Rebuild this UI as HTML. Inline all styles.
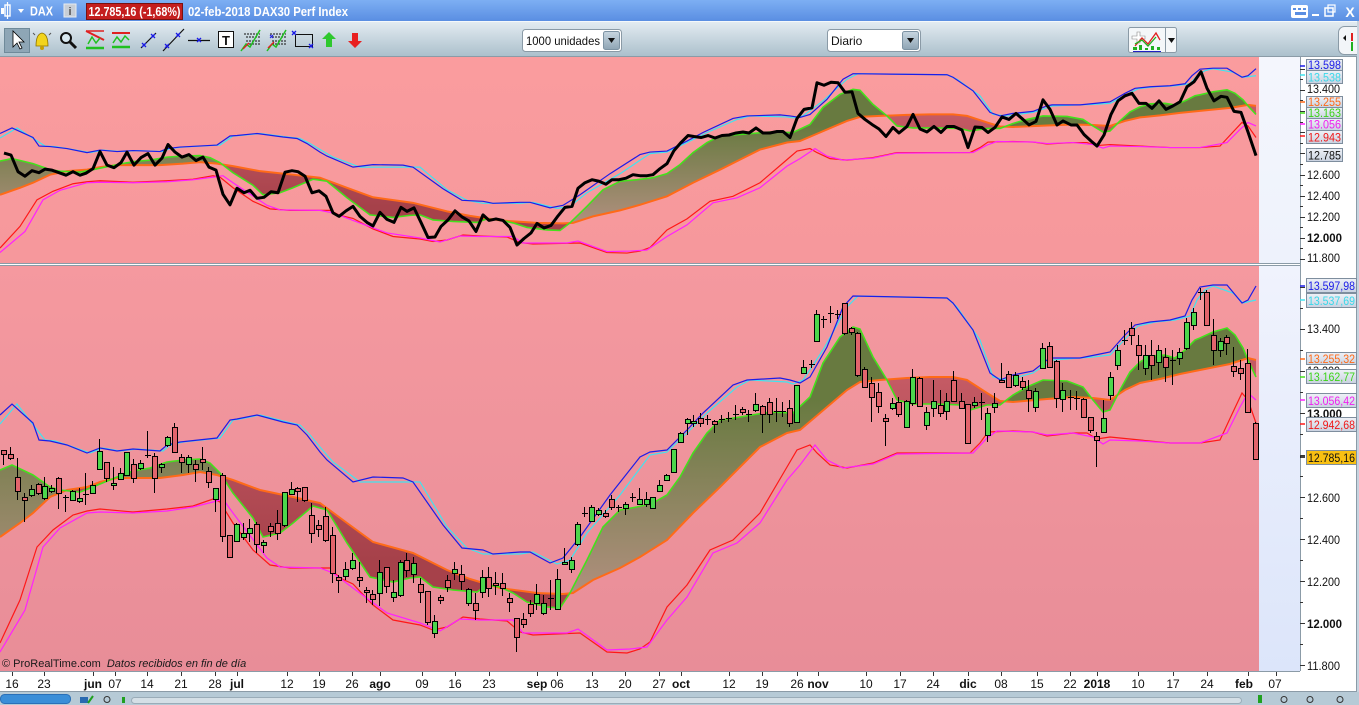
<!DOCTYPE html>
<html><head><meta charset="utf-8">
<style>
html,body{margin:0;padding:0;width:1359px;height:705px;overflow:hidden;background:#fff}
svg{display:block}
text{font-family:"Liberation Sans",Arial,sans-serif}
</style></head><body>
<svg width="1359" height="705" viewBox="0 0 1359 705" xmlns="http://www.w3.org/2000/svg" xmlns:xlink="http://www.w3.org/1999/xlink">
<defs>
 <linearGradient id="tb" x1="0" y1="0" x2="0" y2="1"><stop offset="0" stop-color="#7DAFF3"/><stop offset="1" stop-color="#5A8EE2"/></linearGradient>
 <linearGradient id="tool" x1="0" y1="0" x2="0" y2="1"><stop offset="0" stop-color="#E4ECF2"/><stop offset="1" stop-color="#AABFCB"/></linearGradient>
 <linearGradient id="bgT" x1="0" y1="0" x2="0" y2="1"><stop offset="0" stop-color="#FA9C9E"/><stop offset="1" stop-color="#F6989C"/></linearGradient>
 <linearGradient id="bgB" x1="0" y1="0" x2="0" y2="1"><stop offset="0" stop-color="#F5999F"/><stop offset="1" stop-color="#E88D98"/></linearGradient>
 <linearGradient id="rtT" x1="0" y1="0" x2="0" y2="1"><stop offset="0" stop-color="#F4F6FD"/><stop offset="1" stop-color="#EEF2FC"/></linearGradient>
 <linearGradient id="rtB" x1="0" y1="0" x2="0" y2="1"><stop offset="0" stop-color="#F0F3FD"/><stop offset="1" stop-color="#DCE5FA"/></linearGradient>
 <linearGradient id="box" x1="0" y1="0" x2="0" y2="1"><stop offset="0" stop-color="#EEF1F7"/><stop offset="1" stop-color="#C9D2E0"/></linearGradient>
 <linearGradient id="btn" x1="0" y1="0" x2="0" y2="1"><stop offset="0" stop-color="#C8D6E0"/><stop offset="1" stop-color="#8EA4B4"/></linearGradient>
 <linearGradient id="olv" gradientUnits="userSpaceOnUse" x1="0" y1="400" x2="0" y2="600"><stop offset="0" stop-color="#687A40"/><stop offset="1" stop-color="#B29080"/></linearGradient>
 <linearGradient id="rdf" gradientUnits="userSpaceOnUse" x1="0" y1="380" x2="0" y2="560"><stop offset="0" stop-color="#C45A64"/><stop offset="1" stop-color="#A6414A"/></linearGradient>
 <clipPath id="cT"><rect x="0" y="57" width="1259" height="206"/></clipPath>
 <clipPath id="cB"><rect x="0" y="266" width="1259" height="405"/></clipPath>
 <clipPath id="aO" clipPathUnits="userSpaceOnUse"><path d="M0,280 L0,537 20,523 33,513 50,497 67,490 87,487 100,482 117,478 140,478 160,478 183,475 200,472 217,475 233,480 260,490 293,497 320,503 347,523 373,542 413,553 447,570 470,579 500,588 537,593 563,594 573,593 593,580 620,568 640,557 667,540 693,513 720,487 740,467 760,447 787,433 800,430 820,413 847,390 860,382 880,380 907,378 930,377 953,377 967,380 987,393 1000,401 1013,402 1047,399 1073,397 1093,398 1110,400 1125,390 1140,383 1160,379 1180,374 1200,370 1230,364 1248,358 1256,360 L1256,280 Z"/></clipPath>
 <clipPath id="bO" clipPathUnits="userSpaceOnUse"><path d="M0,672 L0,537 20,523 33,513 50,497 67,490 87,487 100,482 117,478 140,478 160,478 183,475 200,472 217,475 233,480 260,490 293,497 320,503 347,523 373,542 413,553 447,570 470,579 500,588 537,593 563,594 573,593 593,580 620,568 640,557 667,540 693,513 720,487 740,467 760,447 787,433 800,430 820,413 847,390 860,382 880,380 907,378 930,377 953,377 967,380 987,393 1000,401 1013,402 1047,399 1073,397 1093,398 1110,400 1125,390 1140,383 1160,379 1180,374 1200,370 1230,364 1248,358 1256,360 L1256,672 Z"/></clipPath>
 <g id="ind">
  <g clip-path="url(#aO)"><path fill="url(#olv)" d="M0,672 L0,470 12,465 33,475 50,487 60,490 80,492 93,487 100,484 117,477 133,471 150,468 167,462 183,460 200,459 210,463 220,473 233,493 253,518 263,537 280,533 293,523 313,506 327,510 347,543 370,577 393,582 410,578 420,577 433,587 453,590 477,592 487,585 500,587 513,593 527,602 547,607 560,608 570,593 587,560 603,527 620,510 637,507 653,503 667,495 680,477 693,453 707,433 720,420 740,417 770,412 793,413 810,397 823,363 840,337 853,327 860,329 873,357 887,380 897,400 913,404 937,404 960,405 970,410 987,405 1000,405 1013,395 1027,387 1043,380 1067,381 1083,387 1093,400 1103,412 1110,410 1120,390 1130,372 1140,362 1150,356 1165,355 1175,358 1185,350 1195,340 1200,338 1213,332 1227,328 1235,335 1243,348 1248,360 1256,377 L1256,672 Z"/></g>
  <g clip-path="url(#bO)"><path fill="url(#rdf)" d="M0,280 L0,470 12,465 33,475 50,487 60,490 80,492 93,487 100,484 117,477 133,471 150,468 167,462 183,460 200,459 210,463 220,473 233,493 253,518 263,537 280,533 293,523 313,506 327,510 347,543 370,577 393,582 410,578 420,577 433,587 453,590 477,592 487,585 500,587 513,593 527,602 547,607 560,608 570,593 587,560 603,527 620,510 637,507 653,503 667,495 680,477 693,453 707,433 720,420 740,417 770,412 793,413 810,397 823,363 840,337 853,327 860,329 873,357 887,380 897,400 913,404 937,404 960,405 970,410 987,405 1000,405 1013,395 1027,387 1043,380 1067,381 1083,387 1093,400 1103,412 1110,410 1120,390 1130,372 1140,362 1150,356 1165,355 1175,358 1185,350 1195,340 1200,338 1213,332 1227,328 1235,335 1243,348 1248,360 1256,377 L1256,280 Z"/></g>
  <polyline fill="none" stroke="#FF1818" stroke-width="1.2" vector-effect="non-scaling-stroke" points="0,643 20,600 37,547 53,530 73,515 87,511 100,509 133,512 167,509 193,506 213,499 220,502 233,523 253,550 270,565 290,568 330,568 340,578 353,584 373,605 393,620 420,625 433,630 447,627 463,617 480,619 507,621 520,632 533,635 580,633 607,652 627,653 640,649 650,642 667,607 687,585 710,550 733,540 760,513 787,467 797,450 810,445 817,453 830,465 847,468 873,463 897,453 970,453 980,443 988,432 1013,431 1033,432 1047,436 1073,433 1087,433 1097,439 1110,437 1140,440 1170,443 1200,443 1220,440 1233,412 1242,393 1248,400 1256,423"/>
  <polyline fill="none" stroke="#FF20FF" stroke-width="1.2" vector-effect="non-scaling-stroke" points="0,652 25,610 43,547 60,528 87,513 100,512 133,513 167,511 193,507 213,502 223,499 233,513 267,558 280,567 320,568 333,573 353,588 387,613 420,623 440,631 460,619 480,620 513,620 523,633 567,633 578,629 607,650 630,649 647,647 667,620 687,597 713,553 737,543 760,523 787,480 800,465 815,445 827,460 843,468 873,464 897,454 973,453 987,438 997,431 1033,432 1047,435 1073,433 1093,437 1103,444 1110,440 1140,441 1170,443 1200,443 1227,433 1240,407 1248,393 1256,400"/>
  <polyline fill="none" stroke="#40E4F0" stroke-width="1.2" vector-effect="non-scaling-stroke" points="0,424 17,404 45,440 55,441 70,446 90,453 103,448 120,451 137,449 163,451 170,445 183,442 220,438 233,420 240,419 260,415 287,422 300,425 310,435 320,447 333,462 360,482 420,482 447,527 467,548 483,554 520,554 533,552 557,564 570,560 587,533 620,495 650,455 667,452 687,433 707,413 737,387 750,380 787,382 793,384 803,380 823,350 847,307 858,296 947,298 957,307 980,340 993,377 1007,380 1033,373 1053,360 1093,357 1110,355 1128,336 1138,326 1155,322 1175,320 1190,316 1197,300 1205,290 1213,286 1233,293 1243,303 1256,300"/>
  <polyline fill="none" stroke="#1C1CE8" stroke-width="1.2" vector-effect="non-scaling-stroke" points="0,415 12,404 33,423 39,440 50,441 67,445 87,453 100,448 117,451 133,449 160,451 167,445 180,442 217,438 230,420 237,419 257,415 283,422 297,425 307,435 320,452 327,460 353,482 373,477 403,478 413,482 443,525 462,548 483,550 493,554 520,552 530,552 550,563 563,558 580,537 610,495 640,457 650,452 667,450 687,430 703,413 733,385 747,380 780,378 790,380 800,383 810,377 827,347 843,307 853,296 947,298 953,303 973,330 990,373 1000,380 1013,375 1033,371 1047,360 1052,358 1080,358 1100,354 1110,352 1125,335 1135,325 1150,322 1170,320 1185,316 1192,300 1200,287 1213,285 1227,285 1242,303 1248,300 1256,286"/>
  <polyline fill="none" stroke="#FF6A18" stroke-width="2" vector-effect="non-scaling-stroke" points="0,537 20,523 33,513 50,497 67,490 87,487 100,482 117,478 140,478 160,478 183,475 200,472 217,475 233,480 260,490 293,497 320,503 347,523 373,542 413,553 447,570 470,579 500,588 537,593 563,594 573,593 593,580 620,568 640,557 667,540 693,513 720,487 740,467 760,447 787,433 800,430 820,413 847,390 860,382 880,380 907,378 930,377 953,377 967,380 987,393 1000,401 1013,402 1047,399 1073,397 1093,398 1110,400 1125,390 1140,383 1160,379 1180,374 1200,370 1230,364 1248,358 1256,360"/>
  <polyline fill="none" stroke="#44E01C" stroke-width="1.6" vector-effect="non-scaling-stroke" points="0,470 12,465 33,475 50,487 60,490 80,492 93,487 100,484 117,477 133,471 150,468 167,462 183,460 200,459 210,463 220,473 233,493 253,518 263,537 280,533 293,523 313,506 327,510 347,543 370,577 393,582 410,578 420,577 433,587 453,590 477,592 487,585 500,587 513,593 527,602 547,607 560,608 570,593 587,560 603,527 620,510 637,507 653,503 667,495 680,477 693,453 707,433 720,420 740,417 770,412 793,413 810,397 823,363 840,337 853,327 860,329 873,357 887,380 897,400 913,404 937,404 960,405 970,410 987,405 1000,405 1013,395 1027,387 1043,380 1067,381 1083,387 1093,400 1103,412 1110,410 1120,390 1130,372 1140,362 1150,356 1165,355 1175,358 1185,350 1195,340 1200,338 1213,332 1227,328 1235,335 1243,348 1248,360 1256,377"/>
 </g>
</defs>

<!-- title bar -->
<rect x="0" y="0" width="1359" height="21" fill="url(#tb)"/>
<rect x="1" y="8" width="3" height="6" fill="#fff"/><rect x="5" y="5" width="5" height="11" fill="none" stroke="#fff" stroke-width="1.4"/><line x1="7.5" y1="2" x2="7.5" y2="19" stroke="#fff" stroke-width="1.2"/>
<path d="M18,9 L24,9 L21,13 Z" fill="#fff"/>
<text x="30" y="15.5" font-size="12.5" font-weight="bold" fill="#fff" textLength="23" lengthAdjust="spacingAndGlyphs">DAX</text>
<rect x="64" y="4" width="12" height="13" fill="#C8CED6" stroke="#E8ECF0"/><text x="70" y="15" font-size="11" font-weight="bold" fill="#555" text-anchor="middle">i</text>
<rect x="86.5" y="3.5" width="96" height="16" fill="#C41E1E" stroke="#7A1010"/>
<text x="88.5" y="16" font-size="12.5" font-weight="bold" fill="#fff" textLength="92" lengthAdjust="spacingAndGlyphs">12.785,16 (-1,68%)</text>
<text x="188" y="16" font-size="12.5" font-weight="bold" fill="#fff" textLength="160" lengthAdjust="spacingAndGlyphs">02-feb-2018 DAX30 Perf Index</text>
<rect x="1291" y="5" width="17" height="13" rx="2" fill="#fff"/><g fill="#5A8EE2"><rect x="1293" y="8" width="3" height="2"/><rect x="1298" y="8" width="3" height="2"/><rect x="1303" y="8" width="3" height="2"/><rect x="1295" y="12" width="11" height="3"/></g>
<rect x="1312" y="14" width="7" height="2" fill="#fff"/>
<rect x="1325" y="8" width="8" height="8" fill="none" stroke="#fff" stroke-width="1.5"/><rect x="1328" y="5" width="7" height="7" fill="none" stroke="#fff" stroke-width="1.2"/>
<text x="1350" y="17" font-size="14" font-weight="bold" fill="#fff" text-anchor="middle">X</text>

<!-- toolbar -->
<rect x="0" y="21" width="1359" height="36" fill="url(#tool)"/>
<line x1="0" y1="21.5" x2="1359" y2="21.5" stroke="#F4F8FB"/>
<rect x="4.5" y="28.5" width="25" height="24" fill="#8EA6B6" stroke="#6F8A9A"/>
<path d="M13,31 L13,47 L17,43 L20,49 L22,48 L19,42 L24,42 Z" fill="#fff" stroke="#000" stroke-width="0.8"/>
<path d="M36,46 Q36,34 42,33 Q48,34 48,46 Z" fill="#F2D41C" stroke="#8A7000" stroke-width="0.8"/><circle cx="42" cy="48" r="2" fill="#C8A000"/><path d="M33,33 l2,2 M51,33 l-2,2" stroke="#555"/>
<circle cx="66" cy="38" r="5" fill="#D8E8F0" stroke="#111" stroke-width="2"/><line x1="70" y1="42" x2="76" y2="48" stroke="#111" stroke-width="3"/>
<path d="M86,31 L104,40" stroke="#E02020" stroke-width="2"/><path d="M86,48 L104,48" stroke="#20C020" stroke-width="2.5"/><path d="M88,44 L92,37 L96,43 L100,38" stroke="#20C020" fill="none" stroke-width="1.5"/><path d="M86,31 L104,31" stroke="#E02020" stroke-width="1.5"/>
<path d="M112,33 L130,33" stroke="#E02020" stroke-width="2"/><path d="M112,47 L130,47" stroke="#20C020" stroke-width="2.5"/><path d="M113,43 L117,37 L121,42 L125,36 L129,40" stroke="#20C020" fill="none" stroke-width="1.5"/>
<line x1="141" y1="48" x2="156" y2="33" stroke="#111" stroke-width="1.2"/><path d="M142,43 l4,4 m0,-4 l-4,4 M151,34 l4,4 m0,-4 l-4,4" stroke="#1A1AE6" stroke-width="1.3"/>
<line x1="163" y1="51" x2="184" y2="29" stroke="#111" stroke-width="1.2"/><path d="M165,44 l4,4 m0,-4 l-4,4 M176,33 l4,4 m0,-4 l-4,4" stroke="#1A1AE6" stroke-width="1.3"/>
<line x1="188" y1="40.5" x2="210" y2="40.5" stroke="#111" stroke-width="1.2"/><path d="M197,38 l4,4 m0,-4 l-4,4" stroke="#1A1AE6" stroke-width="1.3"/>
<rect x="218.5" y="31.5" width="15" height="16" fill="#fff" stroke="#111"/><text x="226" y="45" font-size="13" font-weight="bold" fill="#111" text-anchor="middle">T</text>
<path d="M244,34h16M246,37h14M246,41h14M246,44h14" stroke="#111" stroke-width="1" stroke-dasharray="2,1"/><path d="M241,51 L246,44 L250,47 L260,30" stroke="#20C020" fill="none" stroke-width="1.5"/><path d="M243,49 L249,43" stroke="#E02020" stroke-width="1.3"/>
<path d="M270,34h16M272,37h14M272,41h14M272,44h14" stroke="#111" stroke-width="1" stroke-dasharray="2,1"/><path d="M267,51 L272,44 L276,47 L286,30" stroke="#20C020" fill="none" stroke-width="1.5"/><path d="M270,35 l3,3 m0,-3 l-3,3" stroke="#1A1AE6"/><path d="M268,48 L274,42" stroke="#E02020" stroke-width="1.3"/>
<rect x="295.5" y="34.5" width="17" height="12" fill="none" stroke="#111"/><path d="M292,31 l4,4 m0,-4 l-4,4 M309,44 l4,4 m0,-4 l-4,4" stroke="#1A1AE6" stroke-width="1.3"/>
<path d="M329,32 L336,39 L332,39 L332,47 L326,47 L326,39 L322,39 Z" fill="#2EC82E"/>
<path d="M355,48 L362,41 L358,41 L358,33 L352,33 L352,41 L348,41 Z" fill="#E82020"/>
<rect x="522.5" y="29.5" width="99" height="22" rx="3" fill="#fff" stroke="#8A9AA6"/><text x="526" y="45" font-size="12" fill="#111" textLength="74" lengthAdjust="spacingAndGlyphs">1000 unidades</text>
<rect x="603.5" y="31.5" width="16" height="18" rx="2" fill="url(#btn)" stroke="#7D93A3"/><path d="M608,38 L615,38 L611.5,43 Z" fill="#111"/>
<rect x="827.5" y="29.5" width="93" height="22" rx="3" fill="#fff" stroke="#8A9AA6"/><text x="831" y="45" font-size="12" fill="#111">Diario</text>
<rect x="902.5" y="31.5" width="16" height="18" rx="2" fill="url(#btn)" stroke="#7D93A3"/><path d="M907,38 L914,38 L910.5,43 Z" fill="#111"/>
<rect x="1128.5" y="27.5" width="48" height="25" rx="2" fill="#F4F7F9" stroke="#8A9AA6"/><line x1="1165.5" y1="28" x2="1165.5" y2="52" stroke="#8A9AA6"/><path d="M1168,38 L1175,38 L1171.5,43 Z" fill="#111"/>
<path d="M1132,36h5v-4h3v4h5v3h-5v4h-3v-4h-5z" fill="#fff" stroke="#888" stroke-width="0.6"/><path d="M1135,46 L1142,38 L1148,44 L1156,33 L1160,40" stroke="#E02020" fill="none" stroke-width="1.3"/><path d="M1135,44 L1142,40 L1148,46 L1156,37" stroke="#20B020" fill="none" stroke-width="1.3"/><path d="M1133,50h4v-3h-4zM1139,50h3v-5h-3zM1145,50h3v-2h-3zM1151,50h3v-4h-3zM1157,50h3v-3h-3z" fill="#20B020"/><path d="M1133,51.5h28" stroke="#2020C0"/>
<rect x="1338.5" y="26.5" width="30" height="28" rx="6" fill="#F2F5F8" stroke="#8A9AA6"/><path d="M1343,38 L1346,35 L1346,41 Z" fill="#111"/><path d="M1352,33 v8" stroke="#E02020" stroke-width="2"/><path d="M1352,42 v9" stroke="#20B020" stroke-width="2"/>

<!-- panel backgrounds -->
<rect x="0" y="57" width="1259" height="206" fill="url(#bgT)"/>
<rect x="1259" y="57" width="41" height="206" fill="url(#rtT)"/>
<rect x="0" y="266" width="1259" height="405" fill="url(#bgB)"/>
<rect x="1259" y="266" width="41" height="405" fill="url(#rtB)"/>
<rect x="1357" y="21" width="2" height="671" fill="#C6D3DF"/>

<!-- top panel -->
<g clip-path="url(#cT)">
 <g transform="translate(0,-75) scale(1,0.5024)">
  <use href="#ind" xlink:href="#ind"/>
  <polyline fill="none" stroke="#000" stroke-width="3" stroke-linejoin="round" vector-effect="non-scaling-stroke" points="4,454 11,458 18,491 25,500 32,489 39,493 45,486 52,488 59,493 66,498 73,491 80,498 86,494 93,485 100,451 107,478 114,483 121,473 127,452 134,478 141,463 148,455 155,478 162,464 168,437 175,452 182,462 189,457 196,469 203,462 209,482 216,488 223,536 230,557 237,524 244,533 250,528 257,544 264,542 271,531 278,533 285,492 292,489 298,491 305,500 312,533 319,529 326,540 333,573 339,580 346,569 353,560 360,580 367,592 373,599 380,572 387,586 394,592 401,562 407,570 414,563 421,592 428,622 435,621 441,600 448,587 455,569 462,581 469,589 476,610 483,577 489,588 496,585 503,588 510,602 517,637 524,624 531,613 537,594 544,603 551,598 558,579 565,562 572,560 578,524 585,513 592,507 599,510 606,516 612,507 619,507 626,504 633,497 640,499 647,499 653,497 660,485 667,475 674,449 681,433 688,419 694,421 701,423 708,419 715,424 722,419 729,418 736,414 743,412 749,414 756,404 763,414 770,414 777,411 783,411 790,423 797,385 804,367 812,364 817,314 824,319 831,313 838,314 845,333 852,332 858,375 865,387 872,397 879,406 886,421 893,403 899,414 907,401 913,377 920,406 927,412 934,401 941,413 947,401 954,401 962,408 968,443 975,402 982,403 988,413 995,403 1002,382 1009,387 1016,375 1023,387 1029,398 1036,391 1043,348 1050,367 1057,398 1063,390 1071,398 1077,398 1084,417 1091,430 1097,440 1104,418 1111,377 1118,350 1125,340 1132,335 1139,355 1146,355 1152,365 1159,350 1166,367 1173,360 1180,352 1187,322 1194,312 1201,292 1207,325 1214,350 1221,341 1227,343 1234,371 1241,373 1248,412 1256,459"/>
 </g>
</g>

<!-- bottom panel -->
<g clip-path="url(#cB)">
 <use href="#ind" xlink:href="#ind"/>
 <path fill="none" stroke="#000" stroke-width="1" d="M3.5 450V465M10.5 447V460M17.5 458V500M24.5 493V522M31.5 485V497M38.5 483V495M44.5 477V500M51.5 485V493M58.5 477V509M65.5 495V512M72.5 490V500M79.5 488V503M85.5 473V505M92.5 481V493M99.5 439V469M106.5 462V482M113.5 467V490M120.5 468V480M126.5 452V475M133.5 459V483M140.5 460V470M147.5 431V458M154.5 453V493M161.5 463V473M167.5 436V447M174.5 423V452M181.5 454V473M188.5 455V473M195.5 460V482M202.5 447V470M208.5 467V488M215.5 488V512M222.5 473V542M229.5 535V557M236.5 523V542M243.5 523V540M249.5 519V542M256.5 522V553M263.5 540V553M270.5 523V537M277.5 510V540M284.5 492V527M291.5 482V495M297.5 487V502M304.5 487V502M311.5 503V543M318.5 520V537M325.5 507V542M332.5 527V583M338.5 575V593M345.5 562V580M352.5 553V570M359.5 562V587M366.5 587V603M372.5 590V605M379.5 560V606M386.5 567V593M393.5 580V602M400.5 560V597M406.5 553V577M413.5 557V583M420.5 578V603M427.5 591V625M434.5 615V638M440.5 595V604M447.5 575V592M454.5 562V580M461.5 565V590M468.5 588V606M475.5 593V620M482.5 570V598M488.5 567V597M495.5 572V595M502.5 573V596M509.5 593V612M516.5 618V652M523.5 613V628M530.5 600V617M536.5 584V610M543.5 595V615M550.5 580V610M557.5 569V610M564.5 548V565M571.5 557V573M577.5 522V546M584.5 507V517M591.5 505V522M598.5 508V516M605.5 510V518M611.5 495V510M618.5 505V512M625.5 502V515M632.5 493V502M639.5 488V505M646.5 492V507M652.5 497V508M659.5 480V492M666.5 474V481M673.5 449V472M680.5 432V442M687.5 418V435M693.5 415V427M700.5 413V427M707.5 415V425M714.5 420V433M721.5 415V423M728.5 412V422M735.5 405V420M742.5 407V415M748.5 410V422M755.5 393V412M762.5 405V433M769.5 398V423M776.5 398V422M782.5 402V417M789.5 400V427M796.5 385V423M803.5 360V373M811.5 360V368M816.5 310V342M823.5 316V328M830.5 306V323M837.5 310V319M844.5 303V335M851.5 327V335M857.5 332V377M864.5 367V388M871.5 377V422M878.5 383V413M885.5 414V446M892.5 398V410M898.5 397V417M906.5 400V428M912.5 369V406M919.5 377V406M926.5 407V430M933.5 380V417M940.5 390V417M946.5 393V420M953.5 371V402M961.5 393V408M967.5 404V443M974.5 397V408M981.5 393V420M987.5 408V442M994.5 393V413M1001.5 363V383M1008.5 371V388M1015.5 372V387M1022.5 377V390M1028.5 380V412M1035.5 388V412M1042.5 343V368M1049.5 342V368M1056.5 360V408M1062.5 383V412M1070.5 390V410M1076.5 391V410M1083.5 398V418M1090.5 417V433M1096.5 432V467M1103.5 400V432M1110.5 372V400M1117.5 345V370M1124.5 330V345M1131.5 322V345M1138.5 335V370M1145.5 345V375M1151.5 340V380M1158.5 345V375M1165.5 348V382M1172.5 350V385M1179.5 348V365M1186.5 318V350M1193.5 308V330M1200.5 288V300M1206.5 290V325M1213.5 319V365M1220.5 338V357M1226.5 335V355M1233.5 347V377M1240.5 360V380M1247.5 349V413M1255.5 422V460"/>
 <path fill="#4CD64C" stroke="#000" stroke-width="1" d="M29.5 489.5h5v6h-5zM42.5 486.5h5v12h-5zM49.5 488.5h5v3h-5zM70.5 491.5h5v9h-5zM77.5 498.5h5v3h-5zM90.5 485.5h5v8h-5zM97.5 451.5h5v18h-5zM111.5 483.5h5v2h-5zM118.5 473.5h5v6h-5zM124.5 452.5h5v23h-5zM138.5 463.5h5v5h-5zM159.5 464.5h5v3h-5zM165.5 437.5h5v8h-5zM186.5 457.5h5v7h-5zM213.5 488.5h5v11h-5zM234.5 524.5h5v17h-5zM241.5 533.5h5v4h-5zM247.5 528.5h5v5h-5zM261.5 542.5h5v3h-5zM282.5 492.5h5v33h-5zM289.5 489.5h5v5h-5zM343.5 569.5h5v7h-5zM350.5 560.5h5v8h-5zM377.5 572.5h5v21h-5zM391.5 592.5h5v5h-5zM398.5 562.5h5v33h-5zM411.5 563.5h5v11h-5zM432.5 621.5h5v12h-5zM452.5 569.5h5v4h-5zM466.5 589.5h5v14h-5zM480.5 577.5h5v15h-5zM534.5 594.5h5v9h-5zM541.5 603.5h5v10h-5zM555.5 579.5h5v30h-5zM562.5 562.5h5v2h-5zM569.5 560.5h5v9h-5zM575.5 524.5h5v20h-5zM589.5 507.5h5v14h-5zM596.5 510.5h5v4h-5zM623.5 504.5h5v4h-5zM637.5 499.5h5v5h-5zM644.5 499.5h5v5h-5zM650.5 497.5h5v11h-5zM657.5 485.5h5v6h-5zM664.5 475.5h5v5h-5zM671.5 449.5h5v23h-5zM678.5 433.5h5v9h-5zM685.5 419.5h5v4h-5zM691.5 421.5h5v2h-5zM753.5 404.5h5v6h-5zM794.5 385.5h5v37h-5zM801.5 367.5h5v6h-5zM814.5 314.5h5v27h-5zM890.5 403.5h5v5h-5zM904.5 401.5h5v26h-5zM910.5 377.5h5v26h-5zM924.5 412.5h5v13h-5zM931.5 401.5h5v7h-5zM944.5 401.5h5v10h-5zM972.5 402.5h5v3h-5zM985.5 413.5h5v22h-5zM992.5 403.5h5v4h-5zM1013.5 375.5h5v10h-5zM1033.5 391.5h5v16h-5zM1040.5 348.5h5v20h-5zM1060.5 390.5h5v9h-5zM1101.5 418.5h5v14h-5zM1108.5 377.5h5v18h-5zM1115.5 350.5h5v15h-5zM1143.5 355.5h5v13h-5zM1156.5 350.5h5v12h-5zM1177.5 352.5h5v6h-5zM1184.5 322.5h5v26h-5zM1191.5 312.5h5v13h-5zM1218.5 341.5h5v9h-5z"/>
 <path fill="#E2646C" stroke="#000" stroke-width="1" d="M1.5 450.5h5v4h-5zM8.5 454.5h5v4h-5zM15.5 477.5h5v14h-5zM22.5 497.5h5v3h-5zM36.5 484.5h5v9h-5zM56.5 478.5h5v15h-5zM104.5 462.5h5v16h-5zM131.5 464.5h5v14h-5zM152.5 456.5h5v22h-5zM172.5 427.5h5v25h-5zM179.5 457.5h5v5h-5zM193.5 464.5h5v5h-5zM200.5 459.5h5v3h-5zM206.5 471.5h5v11h-5zM220.5 475.5h5v61h-5zM227.5 535.5h5v22h-5zM254.5 524.5h5v20h-5zM268.5 526.5h5v5h-5zM275.5 523.5h5v10h-5zM295.5 488.5h5v3h-5zM302.5 487.5h5v13h-5zM309.5 515.5h5v18h-5zM316.5 525.5h5v4h-5zM323.5 516.5h5v24h-5zM330.5 535.5h5v38h-5zM336.5 577.5h5v3h-5zM357.5 577.5h5v3h-5zM364.5 590.5h5v2h-5zM370.5 594.5h5v5h-5zM384.5 567.5h5v19h-5zM404.5 560.5h5v10h-5zM418.5 584.5h5v8h-5zM425.5 591.5h5v31h-5zM438.5 597.5h5v3h-5zM445.5 580.5h5v7h-5zM459.5 574.5h5v7h-5zM473.5 603.5h5v7h-5zM486.5 577.5h5v11h-5zM493.5 583.5h5v2h-5zM500.5 583.5h5v5h-5zM507.5 598.5h5v4h-5zM514.5 618.5h5v19h-5zM521.5 619.5h5v5h-5zM528.5 604.5h5v9h-5zM603.5 513.5h5v3h-5zM609.5 499.5h5v8h-5zM698.5 418.5h5v5h-5zM712.5 421.5h5v3h-5zM740.5 409.5h5v3h-5zM760.5 406.5h5v8h-5zM767.5 402.5h5v12h-5zM787.5 408.5h5v15h-5zM842.5 303.5h5v30h-5zM849.5 328.5h5v4h-5zM855.5 333.5h5v42h-5zM862.5 369.5h5v18h-5zM869.5 383.5h5v14h-5zM876.5 392.5h5v14h-5zM883.5 418.5h5v3h-5zM896.5 402.5h5v12h-5zM917.5 378.5h5v28h-5zM938.5 405.5h5v8h-5zM951.5 380.5h5v21h-5zM959.5 401.5h5v7h-5zM965.5 404.5h5v39h-5zM999.5 380.5h5v2h-5zM1006.5 374.5h5v13h-5zM1020.5 381.5h5v6h-5zM1026.5 390.5h5v8h-5zM1047.5 346.5h5v21h-5zM1054.5 361.5h5v37h-5zM1081.5 399.5h5v18h-5zM1088.5 417.5h5v13h-5zM1094.5 436.5h5v4h-5zM1129.5 328.5h5v7h-5zM1136.5 345.5h5v10h-5zM1149.5 355.5h5v10h-5zM1163.5 357.5h5v10h-5zM1204.5 292.5h5v33h-5zM1211.5 335.5h5v15h-5zM1224.5 337.5h5v6h-5zM1231.5 366.5h5v5h-5zM1238.5 368.5h5v5h-5zM1245.5 363.5h5v49h-5zM1253.5 423.5h5v36h-5z"/>
 <path fill="none" stroke="#000" stroke-width="1" d="M63 497.5h6M83 494.5h6M145 455.5h6M548 598.5h6M582 513.5h6M616 507.5h6M630 497.5h6M705 419.5h6M719 419.5h6M726 418.5h6M733 414.5h6M746 414.5h6M774 411.5h6M780 411.5h6M809 364.5h6M821 319.5h6M828 313.5h6M835 314.5h6M979 402.5h6M1068 397.5h6M1074 398.5h6M1122 340.5h6M1170 360.5h6M1198 292.5h6"/>
 <text x="2" y="667" font-size="11" fill="#1A1A1A">© ProRealTime.com <tspan font-style="italic" dx="3">Datos recibidos en fin de día</tspan></text>
</g>

<!-- frames -->
<g fill="none" stroke="#8B9BA7" stroke-width="1">
 <line x1="0" y1="56.5" x2="1357" y2="56.5"/>
 <line x1="0" y1="263.5" x2="1300" y2="263.5"/>
 <line x1="0" y1="265.5" x2="1300" y2="265.5"/>
 <line x1="1300.5" y1="57" x2="1300.5" y2="671"/>
 <line x1="0" y1="671.5" x2="1300" y2="671.5"/>
 <line x1="1356.5" y1="57" x2="1356.5" y2="692"/>
 <line x1="0" y1="691.5" x2="1357" y2="691.5"/>
</g>

<!-- right axis ticks -->
<g stroke="#333" stroke-width="1">
 <path d="M1300,259.5h5M1300,248.5h3M1300,238.5h5M1300,227.5h3M1300,217.5h5M1300,206.5h3M1300,196.5h5M1300,185.5h3M1300,175.5h5M1300,164.5h3M1300,153.5h5M1300,143.5h3M1300,132.5h5M1300,122.5h3M1300,111.5h5M1300,100.5h3M1300,90.5h5M1300,79.5h3M1300,69.5h5"/>
 <path d="M1300,665.5h5M1300,644.5h3M1300,623.5h5M1300,602.5h3M1300,581.5h5M1300,560.5h3M1300,539.5h5M1300,518.5h3M1300,497.5h5M1300,476.5h3M1300,455.5h5M1300,434.5h3M1300,413.5h5M1300,392.5h3M1300,371.5h5M1300,350.5h3M1300,329.5h5M1300,308.5h3M1300,287.5h5"/>
</g>
<g font-size="12" fill="#111">
 <text x="1307" y="93" textLength="33" lengthAdjust="spacingAndGlyphs">13.400</text>
 <text x="1307" y="136" font-weight="bold" textLength="35" lengthAdjust="spacingAndGlyphs">13.000</text>
 <text x="1307" y="179" textLength="33" lengthAdjust="spacingAndGlyphs">12.600</text>
 <text x="1307" y="200" textLength="33" lengthAdjust="spacingAndGlyphs">12.400</text>
 <text x="1307" y="221" textLength="33" lengthAdjust="spacingAndGlyphs">12.200</text>
 <text x="1307" y="242" font-weight="bold" textLength="35" lengthAdjust="spacingAndGlyphs">12.000</text>
 <text x="1307" y="262" textLength="33" lengthAdjust="spacingAndGlyphs">11.800</text>
 <text x="1307" y="333" textLength="33" lengthAdjust="spacingAndGlyphs">13.400</text>
 <text x="1307" y="375" textLength="33" lengthAdjust="spacingAndGlyphs">13.200</text>
 <text x="1307" y="418" font-weight="bold" textLength="35" lengthAdjust="spacingAndGlyphs">13.000</text>
 <text x="1307" y="502" textLength="33" lengthAdjust="spacingAndGlyphs">12.600</text>
 <text x="1307" y="544" textLength="33" lengthAdjust="spacingAndGlyphs">12.400</text>
 <text x="1307" y="586" textLength="33" lengthAdjust="spacingAndGlyphs">12.200</text>
 <text x="1307" y="628" font-weight="bold" textLength="35" lengthAdjust="spacingAndGlyphs">12.000</text>
 <text x="1307" y="670" textLength="33" lengthAdjust="spacingAndGlyphs">11.800</text>
</g>
<g stroke-width="1.5">
 <path d="M1300,66h5" stroke="#1C1CE8"/><path d="M1300,75h5" stroke="#40E4F0"/><path d="M1300,102h5" stroke="#FF6A18"/><path d="M1300,113h5" stroke="#44E01C"/><path d="M1300,124h5" stroke="#FF20FF"/><path d="M1300,136h5" stroke="#FF1818"/>
 <path d="M1300,286h5" stroke="#1C1CE8"/><path d="M1300,300h5" stroke="#40E4F0"/><path d="M1300,359h5" stroke="#FF6A18"/><path d="M1300,377h5" stroke="#44E01C"/><path d="M1300,400h5" stroke="#FF20FF"/><path d="M1300,424h5" stroke="#FF1818"/><path d="M1300,457h5" stroke="#000"/>
</g>
<g stroke="#7E8E9E" stroke-width="1" fill="url(#box)">
 <rect x="1306.5" y="59.5" width="36" height="11"/>
 <rect x="1306.5" y="70.5" width="36" height="13"/>
 <rect x="1306.5" y="96.5" width="36" height="11"/>
 <rect x="1306.5" y="107.5" width="36" height="11"/>
 <rect x="1306.5" y="118.5" width="36" height="12"/>
 <rect x="1306.5" y="130.5" width="36" height="13"/>
 <rect x="1306.5" y="148.5" width="36" height="13"/>
</g>
<g font-size="12">
 <text x="1308" y="69" fill="#1C1CE8" textLength="33" lengthAdjust="spacingAndGlyphs">13.598</text>
 <text x="1308" y="81.5" fill="#3AD8EA" textLength="33" lengthAdjust="spacingAndGlyphs">13.538</text>
 <text x="1308" y="106" fill="#FF6A18" textLength="33" lengthAdjust="spacingAndGlyphs">13.255</text>
 <text x="1308" y="117" fill="#3CD418" textLength="33" lengthAdjust="spacingAndGlyphs">13.163</text>
 <text x="1308" y="128.5" fill="#F020F0" textLength="33" lengthAdjust="spacingAndGlyphs">13.056</text>
 <text x="1308" y="141.5" fill="#F01818" textLength="33" lengthAdjust="spacingAndGlyphs">12.943</text>
 <text x="1308" y="159.5" fill="#111" textLength="33" lengthAdjust="spacingAndGlyphs">12.785</text>
</g>
<g stroke="#7E8E9E" stroke-width="1" fill="url(#box)">
 <rect x="1306.5" y="278.5" width="50" height="14"/>
 <rect x="1306.5" y="293.5" width="50" height="14"/>
 <rect x="1306.5" y="352.5" width="50" height="12"/>
 <rect x="1306.5" y="369.5" width="50" height="14"/>
 <rect x="1306.5" y="393.5" width="50" height="14"/>
 <rect x="1306.5" y="417.5" width="50" height="14"/>
 <rect x="1306.5" y="450.5" width="50" height="14" fill="#F8C012"/>
</g>
<g font-size="12">
 <text x="1308" y="290" fill="#1C1CE8" textLength="47" lengthAdjust="spacingAndGlyphs">13.597,98</text>
 <text x="1308" y="305" fill="#3AD8EA" textLength="47" lengthAdjust="spacingAndGlyphs">13.537,69</text>
 <text x="1308" y="363" fill="#FF6A18" textLength="47" lengthAdjust="spacingAndGlyphs">13.255,32</text>
 <text x="1308" y="381" fill="#3CD418" textLength="47" lengthAdjust="spacingAndGlyphs">13.162,77</text>
 <text x="1308" y="405" fill="#F020F0" textLength="47" lengthAdjust="spacingAndGlyphs">13.056,42</text>
 <text x="1308" y="429" fill="#F01818" textLength="47" lengthAdjust="spacingAndGlyphs">12.942,68</text>
 <text x="1308" y="462" fill="#111" textLength="47" lengthAdjust="spacingAndGlyphs">12.785,16</text>
</g>

<!-- x axis -->
<path stroke="#333" stroke-width="1" d="M12.5,672v4M44.5,672v4M93.5,672v4M115.5,672v4M147.5,672v4M181.5,672v4M215.5,672v4M237.5,672v4M287.5,672v4M319.5,672v4M352.5,672v4M380.5,672v4M422.5,672v4M455.5,672v4M489.5,672v4M537.5,672v4M557.5,672v4M592.5,672v4M625.5,672v4M659.5,672v4M681.5,672v4M729.5,672v4M762.5,672v4M797.5,672v4M818.5,672v4M866.5,672v4M900.5,672v4M933.5,672v4M968.5,672v4M1001.5,672v4M1037.5,672v4M1070.5,672v4M1097.5,672v4M1138.5,672v4M1173.5,672v4M1207.5,672v4M1248.5,672v4M1276.5,672v4"/>
<g font-size="12" fill="#111" text-anchor="middle">
 <text x="12" y="688">16</text><text x="44" y="688">23</text><text x="93" y="688" font-weight="bold">jun</text><text x="115" y="688">07</text><text x="147" y="688">14</text><text x="181" y="688">21</text><text x="215" y="688">28</text><text x="237" y="688" font-weight="bold">jul</text><text x="287" y="688">12</text><text x="319" y="688">19</text><text x="352" y="688">26</text><text x="380" y="688" font-weight="bold">ago</text><text x="422" y="688">09</text><text x="455" y="688">16</text><text x="489" y="688">23</text><text x="537" y="688" font-weight="bold">sep</text><text x="557" y="688">06</text><text x="592" y="688">13</text><text x="625" y="688">20</text><text x="659" y="688">27</text><text x="681" y="688" font-weight="bold">oct</text><text x="729" y="688">12</text><text x="762" y="688">19</text><text x="797" y="688">26</text><text x="818" y="688" font-weight="bold">nov</text><text x="866" y="688">10</text><text x="900" y="688">17</text><text x="933" y="688">24</text><text x="968" y="688" font-weight="bold">dic</text><text x="1001" y="688">08</text><text x="1037" y="688">15</text><text x="1070" y="688">22</text><text x="1097" y="688" font-weight="bold">2018</text><text x="1138" y="688">10</text><text x="1173" y="688">17</text><text x="1207" y="688">24</text><text x="1244" y="688" font-weight="bold">feb</text><text x="1275" y="688">07</text>
</g>

<!-- status bar -->
<rect x="0" y="692" width="1359" height="13" fill="#B6CAD6"/>
<rect x="0.5" y="694.5" width="70" height="9" rx="4" fill="#3A8ED8" stroke="#2A70B8"/>
<rect x="80" y="697" width="8" height="6" fill="#2A6AB0"/><path d="M88,703 L93,696" stroke="#20A020" stroke-width="2"/><circle cx="107" cy="699.5" r="3" fill="none" stroke="#333"/><rect x="122" y="697" width="3" height="6" fill="#20A020"/>
<rect x="131.5" y="697.5" width="1110" height="6" rx="3" fill="#D4DFE6" stroke="#9AACB8"/>
<rect x="1258" y="695" width="4" height="8" fill="#20A020"/><circle cx="1284" cy="699.5" r="3" fill="none" stroke="#333"/><circle cx="1310" cy="699.5" r="3" fill="none" stroke="#333"/><circle cx="1340" cy="699.5" r="3" fill="none" stroke="#333"/>
</svg>
</body></html>
